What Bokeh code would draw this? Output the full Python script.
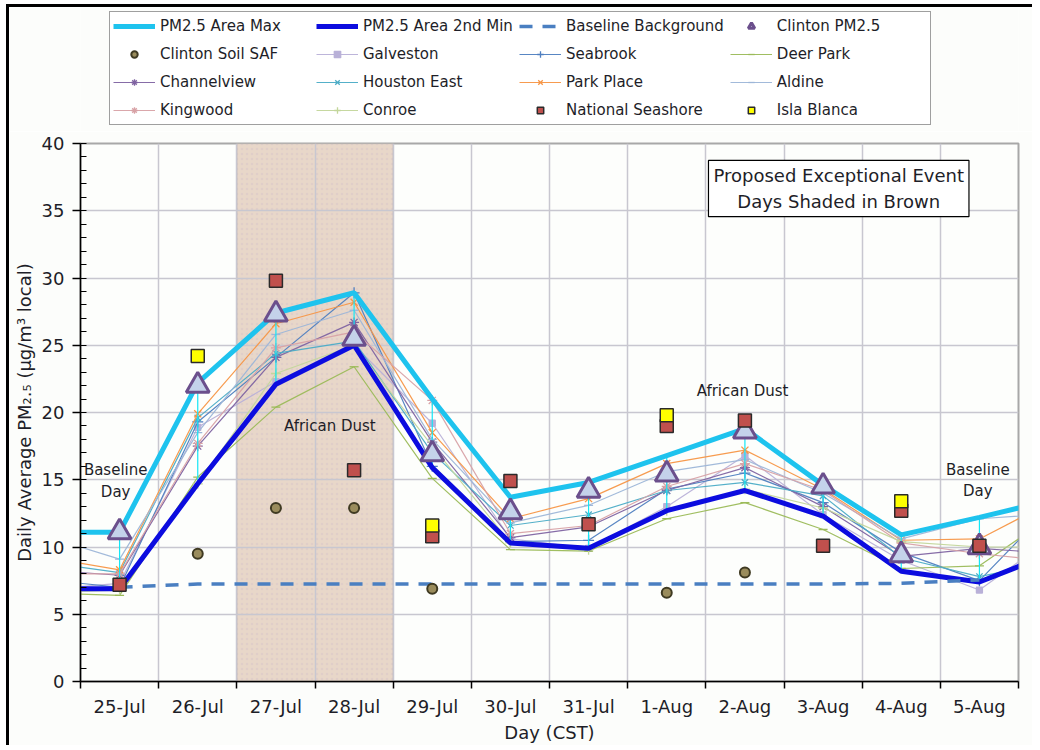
import math
from bokeh.plotting import figure
from bokeh.layouts import column
from bokeh.models import (FixedTicker, Legend, LegendItem, Label, BoxAnnotation, Range1d)
from bokeh.embed import file_html
from bokeh.resources import INLINE

nan = float("nan")

# ---- data (24-Jul .. 6-Aug; first and last day are only partly visible) ----
days = ["24-Jul", "25-Jul", "26-Jul", "27-Jul", "28-Jul", "29-Jul", "30-Jul",
        "31-Jul", "1-Aug", "2-Aug", "3-Aug", "4-Aug", "5-Aug", "6-Aug"]
shown_days = days[1:13]

area_max = [11.1, 11.1, 22.2, 27.4, 28.9, 21.0, 13.7, 14.8, 16.8, 18.8, 14.6, 10.9, 12.2, 13.6]
area_2nd_min = [6.9, 6.9, 14.7, 22.1, 25.0, 15.9, 10.3, 9.9, 12.7, 14.2, 12.3, 8.2, 7.4, 9.7]
baseline_bg = [nan, 7.0, 7.25, 7.25, 7.25, 7.25, 7.25, 7.25, 7.25, 7.25, 7.25, 7.3, 7.55, nan]
clinton_pm25 = [nan, 11.1, 22.0, 27.3, 25.5, 16.9, 12.6, 14.2, 15.4, 18.6, 14.5, 9.4, 10.0, nan]
clinton_soil_saf = [nan, nan, 9.5, 12.9, 12.9, 6.9, nan, nan, 6.6, 8.1, nan, nan, nan, nan]
national_seashore = [nan, 7.2, nan, 29.8, 15.7, 10.8, 14.9, 11.7, 19.0, 19.4, 10.1, 12.7, 10.1, nan]
isla_blanca = [nan, nan, 24.2, nan, nan, 11.6, nan, nan, 19.8, nan, nan, 13.4, nan, nan]

galveston = [6.8, 7.3, 18.9, 22.3, 25.0, 19.2, 10.6, 9.9, 13.0, 16.8, 12.4, 9.0, 6.8, 11.0]
seabrook = [7.6, 7.0, 19.3, 24.1, 28.9, 16.0, 10.4, 10.5, 14.3, 15.5, 13.3, 9.6, 7.5, 13.5]
deer_park = [6.6, 6.4, 15.2, 20.4, 23.4, 15.1, 9.8, 9.7, 12.1, 13.3, 11.3, 8.4, 8.6, 12.6]
channelview = [8.3, 7.9, 17.5, 24.1, 26.7, 17.8, 10.7, 11.5, 14.2, 15.9, 13.0, 9.3, 9.9, 9.5]
houston_east = [8.9, 8.1, 19.6, 24.4, 25.3, 17.0, 11.6, 12.4, 14.2, 14.8, 13.8, 9.2, 7.8, 9.0]
park_place = [9.3, 8.3, 19.9, 26.6, 28.2, 18.5, 12.1, 13.6, 16.2, 17.2, 14.3, 10.5, 10.6, 13.6]
aldine = [10.9, 9.1, 18.5, 25.8, 27.6, 18.0, 11.8, 13.1, 15.6, 16.5, 14.0, 10.6, 12.1, 12.5]
kingwood = [8.0, 8.0, 17.7, 24.8, 26.0, 20.9, 11.0, 11.6, 14.5, 16.2, 14.2, 10.3, 9.5, 8.9]
conroe = [6.6, 6.8, 14.7, 22.9, 25.0, 17.5, 10.3, 9.8, 12.7, 14.3, 12.9, 10.4, 10.0, 10.0]

y_ticks = [0, 5, 10, 15, 20, 25, 30, 35, 40]

# positions: index 0 = 25-Jul
xs = [i - 1 for i in range(len(days))]
shown_x = [i for i in range(len(shown_days))]

FONT = "DejaVu Sans"
TXT = "#1e1e28"
BG = "#fcfdfb"

p = figure(width=1023, height=614, output_backend="svg", toolbar_location=None,
           x_range=Range1d(-0.5, len(shown_days) - 0.5), y_range=Range1d(y_ticks[0], y_ticks[-1]),
           min_border_left=71, min_border_right=14, min_border_top=12, min_border_bottom=64)
p.background_fill_color = "#fdfefc"
p.border_fill_color = BG
p.outline_line_color = "#a8a8a8"
p.outline_line_width = 2

# shaded exceptional-event days (27-Jul, 28-Jul)
p.add_layout(BoxAnnotation(left=1.5, right=3.5, fill_color="#e8d7c9", fill_alpha=1.0,
                           line_color="#a0a0a0", line_width=1.5, level="image",
                           hatch_pattern="dot", hatch_color="#c9b3c8", hatch_alpha=0.25,
                           hatch_scale=5))

# axes
bounds = [b - 0.5 for b in range(len(shown_days) + 1)]
p.xaxis.ticker = FixedTicker(ticks=shown_x, minor_ticks=bounds)
p.xaxis.major_label_overrides = {i: d for i, d in zip(shown_x, shown_days)}
p.xaxis.major_tick_out = 0
p.xaxis.major_tick_in = 0
p.xaxis.minor_tick_out = 7
p.xaxis.minor_tick_in = 0
p.xaxis.minor_tick_line_color = "black"
p.xaxis.minor_tick_line_width = 1.5
p.xaxis.axis_label = "Day (CST)"

p.yaxis.ticker = FixedTicker(ticks=y_ticks, minor_ticks=list(range(y_ticks[0], y_ticks[-1] + 1)))
p.yaxis.major_tick_out = 8
p.yaxis.major_tick_in = 0
p.yaxis.minor_tick_in = 6
p.yaxis.minor_tick_out = 0
p.yaxis.axis_label = "Daily Average PM\u2082.\u2085 (\u00b5g/m\u00b3 local)"

for ax in (p.xaxis[0], p.yaxis[0]):
    ax.axis_line_color = "black"
    ax.axis_line_width = 1.5
    ax.major_tick_line_color = "black"
    ax.major_tick_line_width = 1.5
    ax.minor_tick_line_color = "black"
    ax.major_label_text_font = FONT
    ax.major_label_text_font_size = "18px"
    ax.major_label_text_color = TXT
    ax.axis_label_text_font = FONT
    ax.axis_label_text_font_size = "18px"
    ax.axis_label_text_font_style = "normal"
    ax.axis_label_text_color = TXT
p.xaxis.major_label_standoff = 7
p.xaxis.axis_label_standoff = 2
p.yaxis.major_label_standoff = 8
p.yaxis.axis_label_standoff = 4

p.xgrid.ticker = FixedTicker(ticks=bounds[1:-1])
p.ygrid.ticker = FixedTicker(ticks=y_ticks[1:-1])
for g in (p.xgrid[0], p.ygrid[0]):
    g.grid_line_color = "#c8c7d0"
    g.grid_line_width = 1.5

# ---- legend strip above the chart: same series drawn out of its (empty) view ----
lf = figure(width=1023, height=124, output_backend="svg", toolbar_location=None,
            x_range=Range1d(0, 1), y_range=Range1d(-2, -1), min_border=0,
            x_axis_location=None, y_axis_location=None)
lf.grid.visible = False
lf.outline_line_color = None
lf.background_fill_color = BG
lf.border_fill_color = BG

items = {}

def both(kind, xv, yv, **kw):
    """draw in the chart, plus a twin (outside the visible range) for the legend strip"""
    getattr(p, kind)(xv, yv, **kw)
    return getattr(lf, kind)(xv, yv, **kw)

# station lines
stations = [
    ("Galveston", galveston, "#b9b1d8", "square", 6),
    ("Seabrook", seabrook, "#4f7fc0", "cross", 11),
    ("Deer Park", deer_park, "#9bbb59", "dash", 9),
    ("Channelview", channelview, "#8064a2", "asterisk", 10),
    ("Houston East", houston_east, "#4bacc6", "x", 9),
    ("Park Place", park_place, "#f79646", "x", 10),
    ("Aldine", aldine, "#9db6d8", "dash", 9),
    ("Kingwood", kingwood, "#d8a2a6", "asterisk", 10),
    ("Conroe", conroe, "#c3d69b", "cross", 10),
]
for name, vals, col, mk, sz in stations:
    t1 = both("line", xs, vals, line_color=col, line_width=1.2, line_alpha=0.95)
    t2 = both("scatter", xs, vals, marker=mk, size=sz, line_color=col, fill_color=col,
              line_width=1.3)
    items[name] = [t1, t2]

# high-low lines
p.segment(x0=xs, y0=area_2nd_min, x1=xs, y1=area_max, line_color="#14e6f5", line_width=1.2)

items["PM2.5 Area Max"] = [both("line", xs, area_max, line_color="#1ec3ee", line_width=5)]
items["PM2.5 Area 2nd Min"] = [both("line", xs, area_2nd_min, line_color="#0c0cdf", line_width=5)]
items["Baseline Background"] = [both("line", xs, baseline_bg, line_color="#4a7fc1", line_width=3.5,
                                     line_dash="13 10")]
items["Clinton PM2.5"] = [both("scatter", xs, clinton_pm25, marker="triangle", size=23,
                               line_color="#6b4f8c", line_width=3, fill_color="#c4d2ea")]
items["Clinton Soil SAF"] = [both("scatter", xs, clinton_soil_saf, marker="circle", size=10,
                                  line_color="#3f3a22", line_width=2, fill_color="#9a8c5c")]
items["National Seashore"] = [both("scatter", xs, national_seashore, marker="square", size=13,
                                   line_color="#2a2a2a", line_width=1.5, fill_color="#c0504d")]
items["Isla Blanca"] = [both("scatter", xs, isla_blanca, marker="square", size=13,
                             line_color="#2a2a2a", line_width=1.5, fill_color="#ffff00")]

order = ["PM2.5 Area Max", "PM2.5 Area 2nd Min", "Baseline Background", "Clinton PM2.5",
         "Clinton Soil SAF", "Galveston", "Seabrook", "Deer Park",
         "Channelview", "Houston East", "Park Place", "Aldine",
         "Kingwood", "Conroe", "National Seashore", "Isla Blanca"]
legend = Legend(items=[LegendItem(label=n, renderers=items[n]) for n in order],
                orientation="horizontal", ncols=4, location=(29, 6),
                label_text_font=FONT, label_text_font_size="15px", label_text_color=TXT,
                glyph_width=42, glyph_height=16, label_standoff=5, label_height=22,
                label_width=150, spacing=6, padding=3, margin=0,
                border_line_color="#404040", border_line_width=1.2,
                background_fill_color="white", background_fill_alpha=1.0)
lf.add_layout(legend)

# annotations
def note(x, y, text, size="15px"):
    p.add_layout(Label(x=x, y=y, text=text, text_align="center", text_baseline="middle",
                       text_font=FONT, text_font_size=size, text_color=TXT))

note(2.69, 19.0, "African Dust")
note(7.97, 21.6, "African Dust")
note(-0.05, 14.9, "Baseline\nDay")
note(10.98, 14.95, "Baseline\nDay")
p.add_layout(Label(x=9.2, y=36.65, text="Proposed Exceptional Event\nDays Shaded in Brown",
                   text_align="center", text_baseline="middle", text_font=FONT,
                   text_font_size="18px", text_color=TXT, border_line_color="black",
                   border_line_width=1.2, background_fill_color="white", padding=5))

page = column(lf, p, spacing=0)
page.styles = {"margin-left": "6px", "margin-top": "4px",
               "border-top": "3px solid black", "border-left": "3px solid black"}

open("out.html", "w").write(file_html(page, INLINE))
